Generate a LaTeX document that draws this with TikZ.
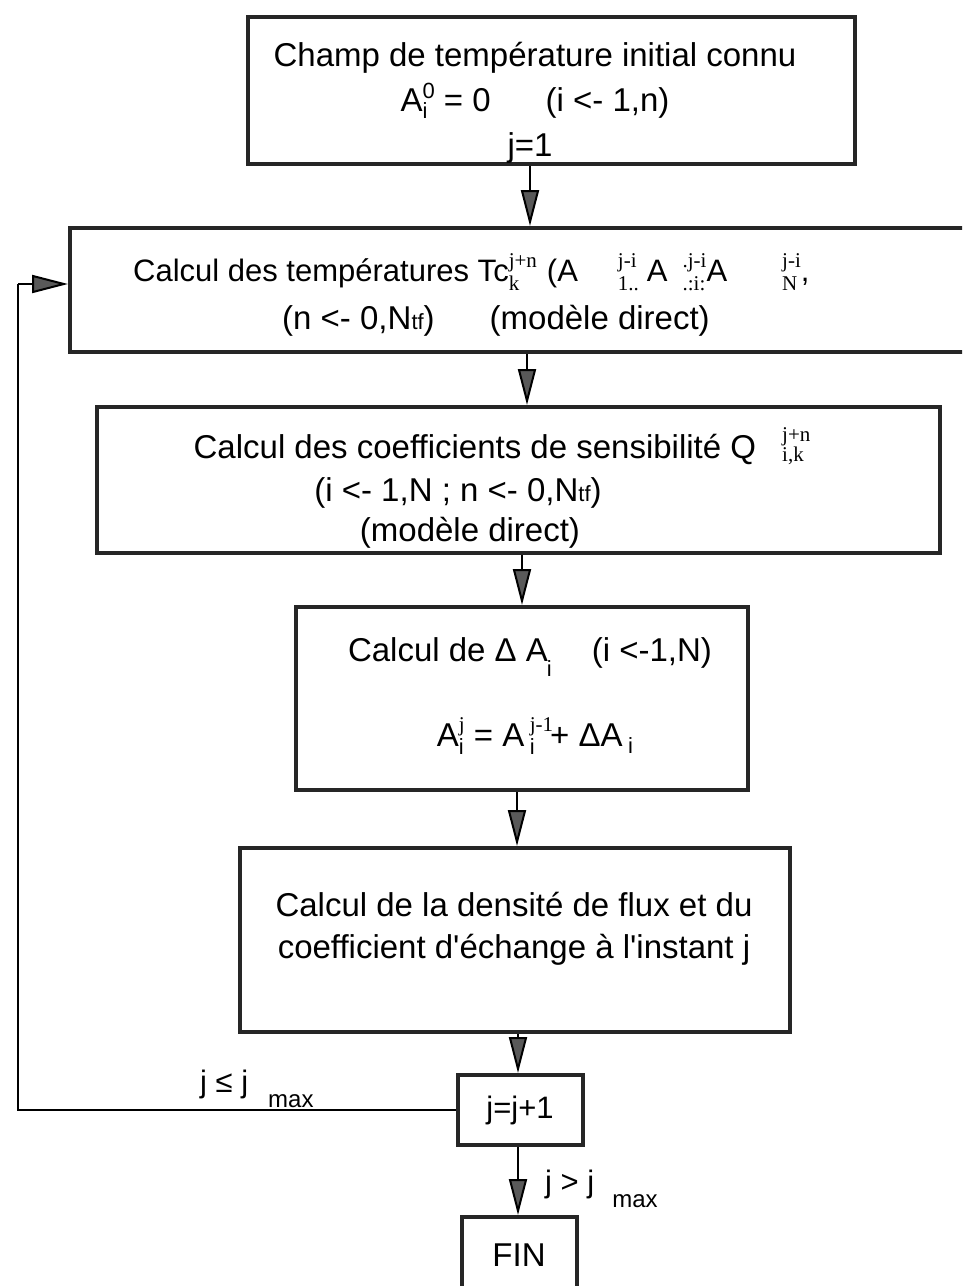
\documentclass[tikz,border=0pt]{standalone}
\usepackage{fontspec}
\setmainfont{Liberation Sans}
\newfontfamily\idxserif{Liberation Serif}
\usetikzlibrary{arrows.meta}
\newcommand{\idxs}{\idxserif\fontsize{21}{21}\selectfont}
\newcommand{\idxa}{\fontsize{22}{22}\selectfont}
\newcommand{\stackidx}[4]{{\setbox0=\hbox{\raisebox{#1}{#3}}\setbox2=\hbox{\raisebox{-#2}{#4}}\ifdim\wd0>\wd2 \rlap{\box2}\box0\else\rlap{\box0}\box2\fi}}
\begin{document}
\begin{tikzpicture}[x=1pt,y=-1pt,
  box/.style={draw=black!85, line width=4pt, inner sep=0pt},
  txt/.style={anchor=base, inner sep=0pt, font=\fontsize{33}{40}\selectfont},
  lbl/.style={anchor=base west, inner sep=0pt, font=\fontsize{31}{36}\selectfont},
  flow/.style={line width=2pt, -{Triangle[length=36pt,width=18pt,fill=black!65]}},
  loop/.style={line width=2.5pt}]
\useasboundingbox (0,0) rectangle (962,1286);
\clip (0,0) rectangle (962,1286);
% boxes
\node[box, minimum width=607, minimum height=147] (b1) at (551.5,90) {};
\node[box, minimum width=910, minimum height=124] (b2) at (525,290) {};
\node[box, minimum width=843, minimum height=146] (b3) at (518.5,480) {};
\node[box, minimum width=452, minimum height=183] (b4) at (522,698.5) {};
\node[box, minimum width=550, minimum height=184] (b5) at (515,940) {};
\node[box, minimum width=125, minimum height=70, font=\fontsize{31}{36}\selectfont] (inc) at (520,1110) {j=j+1};
\node[box, minimum width=115, minimum height=76, font=\fontsize{33}{40}\selectfont] (fin) at (519,1255) {FIN};
% texts
\node[txt] (t11) at (535,66) {Champ de température initial connu};
\node[txt] (t12) at (535,111) {A\stackidx{13pt}{7pt}{\idxa 0}{\idxa i} = 0\hspace{55pt}(i <- 1,n)};
\node[txt] (t13) at (530,156) {j=1};
\node[txt, anchor=base west, font=\fontsize{31}{40}\selectfont] (t21) at (133,281) {Calcul des températures Tc\stackidx{14pt}{9pt}{\idxs j+n}{\idxs k}\hspace{10pt}(A\hspace{40pt}\stackidx{14pt}{9pt}{\idxs j-i}{\idxs 1..}\hspace{8pt}A\hspace{15pt}\stackidx{14pt}{9pt}{\idxs .j-i}{\idxs .:i:}A\hspace{55pt}\stackidx{14pt}{9pt}{\idxs j-i}{\idxs N},};
\node[txt] (t22) at (496,329) {(n <- 0,N{\idxa tf})\hspace{55pt}(modèle direct)};
\node[txt] (t31) at (502,458) {Calcul des coefficients de sensibilité Q\hspace{26pt}\stackidx{17pt}{3pt}{\idxs j+n}{\idxs i,k}};
\node[txt] (t32) at (458,501) {(i <- 1,N ; n <- 0,N{\idxa tf})};
\node[txt] (t33) at (470,541) {(modèle direct)};
\node[txt] (t41) at (530,661) {Calcul de Δ A\hspace{-1pt}\raisebox{-15pt}{\idxa i}\hspace{40pt}(i <-1,N)};
\node[txt] (t42) at (535,746) {A\stackidx{15pt}{8pt}{\idxs j}{\idxa i} = A\,\stackidx{15pt}{8pt}{\idxs j-1}{\idxa i}\hspace{-3pt}+ ΔA\,\raisebox{-7pt}{\idxa i}};
\node[txt] (t51) at (514,916) {Calcul de la densité de flux et du};
\node[txt] (t52) at (514,958) {coefficient d\textquotesingle échange à l\textquotesingle instant j};
\node[lbl] (lle) at (200,1092) {j ≤ j\hspace{20pt}\raisebox{-15pt}{\fontsize{24}{24}\selectfont max}};
\node[lbl] (lgt) at (545,1192) {j > j\hspace{18pt}\raisebox{-15pt}{\fontsize{24}{24}\selectfont max}};
% connectors
\coordinate (x1) at (530,0);
\coordinate (x2) at (527,0);
\coordinate (x3) at (522,0);
\coordinate (x4) at (517,0);
\coordinate (x5) at (518,0);
\coordinate (la) at (18,284);
\draw[flow] (b1.south -| x1) -- (b2.north -| x1);
\draw[flow] (b2.south -| x2) -- (b3.north -| x2);
\draw[flow] (b3.south -| x3) -- (b4.north -| x3);
\draw[flow] (b4.south -| x4) -- (b5.north -| x4);
\draw[flow] (b5.south -| x5) -- (inc.north -| x5);
\draw[flow] (inc.south -| x5) -- (fin.north -| x5);
\draw[loop] (inc.west) -| (la);
\draw[flow] (la) -- (la -| b2.west);
\end{tikzpicture}
\end{document}
